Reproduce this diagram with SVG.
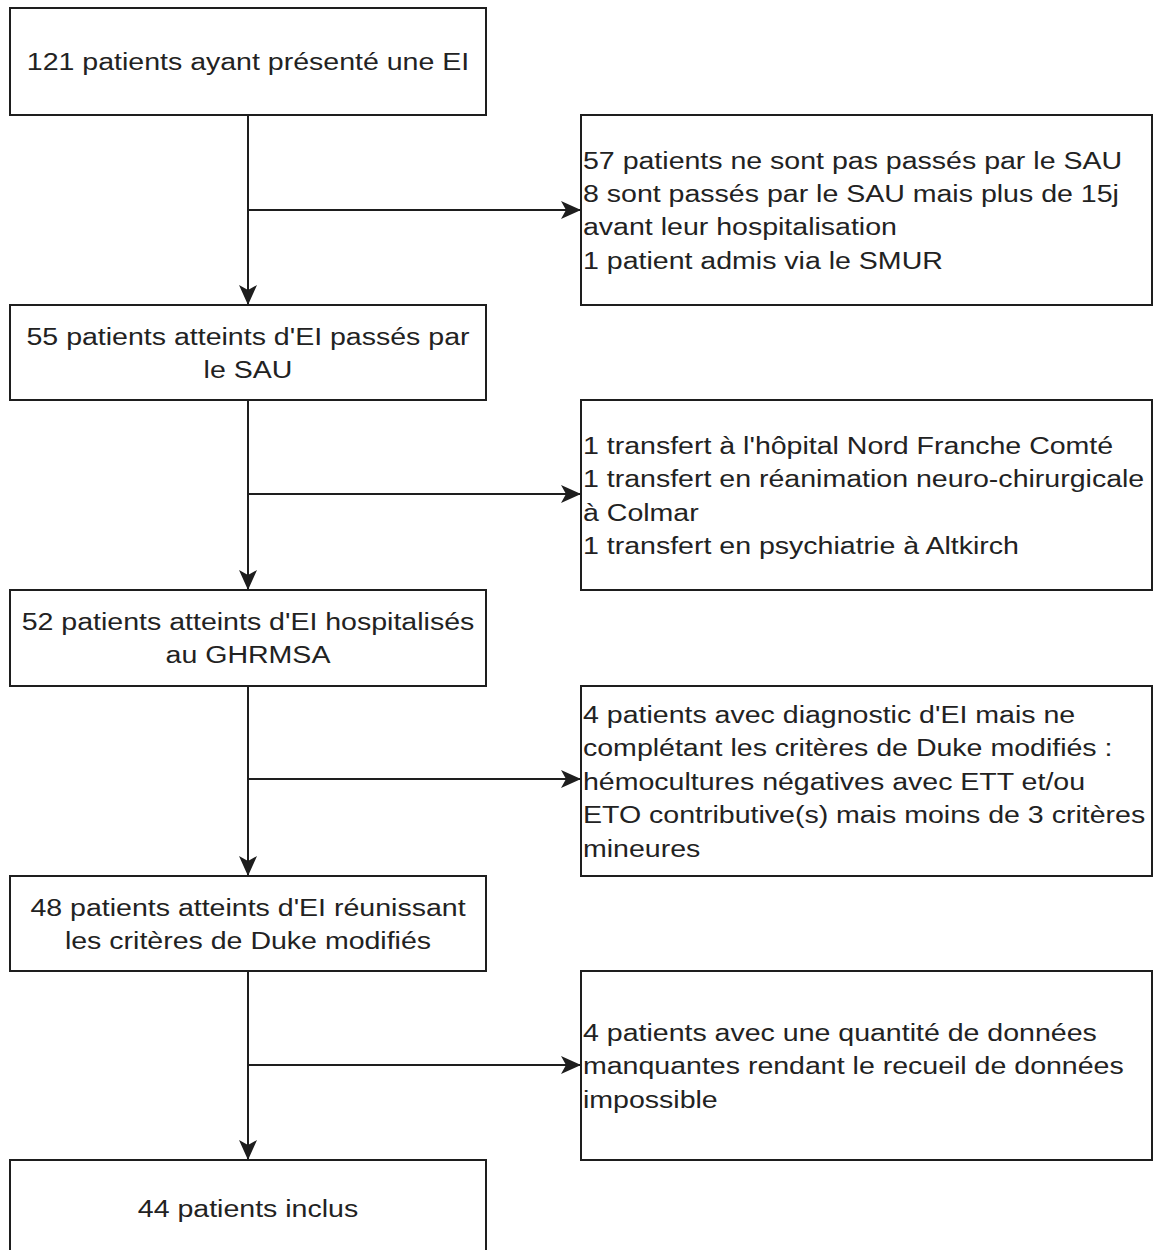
<svg xmlns="http://www.w3.org/2000/svg" width="1154" height="1250" viewBox="0 0 1154 1250">
<style>
.box{fill:#ffffff;stroke:#1e1e1e;stroke-width:2}
.t{font-family:"Liberation Sans",Arial,Helvetica,sans-serif;font-size:24.5px;fill:#222222}
.c{text-anchor:middle}
.edge{fill:none;stroke:#1e1e1e;stroke-width:2}
</style>
<defs>
<marker id="arr" markerWidth="20" markerHeight="18" refX="19" refY="9" orient="auto" markerUnits="userSpaceOnUse">
<path d="M0,0 L20,9 L0,18 L5,9 Z" fill="#1e1e1e"/>
</marker>
</defs>
<rect x="0" y="0" width="1154" height="1250" fill="#ffffff"/>
<g id="connectors">
<path class="edge" d="M248,115 L248,304" marker-end="url(#arr)"/>
<path class="edge" d="M248,210 L580,210" marker-end="url(#arr)"/>
<path class="edge" d="M248,400 L248,589" marker-end="url(#arr)"/>
<path class="edge" d="M248,494 L580,494" marker-end="url(#arr)"/>
<path class="edge" d="M248,686 L248,875" marker-end="url(#arr)"/>
<path class="edge" d="M248,779 L580,779" marker-end="url(#arr)"/>
<path class="edge" d="M248,971 L248,1159" marker-end="url(#arr)"/>
<path class="edge" d="M248,1065 L580,1065" marker-end="url(#arr)"/>
</g>
<g id="n1">
<rect class="box" x="10" y="8" width="476" height="107"/>
<g transform="translate(248,0) scale(1.165,1)">
<text class="t c" x="0" y="70">121 patients ayant présenté une EI</text>
</g>
</g>
<g id="n2">
<rect class="box" x="10" y="305" width="476" height="95"/>
<g transform="translate(248,0) scale(1.165,1)">
<text class="t c" x="0" y="345">55 patients atteints d'EI passés par</text>
<text class="t c" x="0" y="378">le SAU</text>
</g>
</g>
<g id="n3">
<rect class="box" x="10" y="590" width="476" height="96"/>
<g transform="translate(248,0) scale(1.165,1)">
<text class="t c" x="0" y="630">52 patients atteints d'EI hospitalisés</text>
<text class="t c" x="0" y="663">au GHRMSA</text>
</g>
</g>
<g id="n4">
<rect class="box" x="10" y="876" width="476" height="95"/>
<g transform="translate(248,0) scale(1.165,1)">
<text class="t c" x="0" y="916">48 patients atteints d'EI réunissant</text>
<text class="t c" x="0" y="949">les critères de Duke modifiés</text>
</g>
</g>
<g id="n5">
<rect class="box" x="10" y="1160" width="476" height="100"/>
<g transform="translate(248,0) scale(1.165,1)">
<text class="t c" x="0" y="1217">44 patients inclus</text>
</g>
</g>
<g id="r1">
<rect class="box" x="581" y="115" width="571" height="190"/>
<g transform="translate(583,0) scale(1.165,1)">
<text class="t" x="0" y="169">57 patients ne sont pas passés par le SAU</text>
<text class="t" x="0" y="202">8 sont passés par le SAU mais plus de 15j</text>
<text class="t" x="0" y="235">avant leur hospitalisation</text>
<text class="t" x="0" y="269">1 patient admis via le SMUR</text>
</g>
</g>
<g id="r2">
<rect class="box" x="581" y="400" width="571" height="190"/>
<g transform="translate(583,0) scale(1.165,1)">
<text class="t" x="0" y="454">1 transfert à l'hôpital Nord Franche Comté</text>
<text class="t" x="0" y="487">1 transfert en réanimation neuro-chirurgicale</text>
<text class="t" x="0" y="521">à Colmar</text>
<text class="t" x="0" y="554">1 transfert en psychiatrie à Altkirch</text>
</g>
</g>
<g id="r3">
<rect class="box" x="581" y="686" width="571" height="190"/>
<g transform="translate(583,0) scale(1.165,1)">
<text class="t" x="0" y="723">4 patients avec diagnostic d'EI mais ne</text>
<text class="t" x="0" y="756">complétant les critères de Duke modifiés :</text>
<text class="t" x="0" y="790">hémocultures négatives avec ETT et/ou</text>
<text class="t" x="0" y="823">ETO contributive(s) mais moins de 3 critères</text>
<text class="t" x="0" y="857">mineures</text>
</g>
</g>
<g id="r4">
<rect class="box" x="581" y="971" width="571" height="189"/>
<g transform="translate(583,0) scale(1.165,1)">
<text class="t" x="0" y="1041">4 patients avec une quantité de données</text>
<text class="t" x="0" y="1074">manquantes rendant le recueil de données</text>
<text class="t" x="0" y="1108">impossible</text>
</g>
</g>
</svg>
